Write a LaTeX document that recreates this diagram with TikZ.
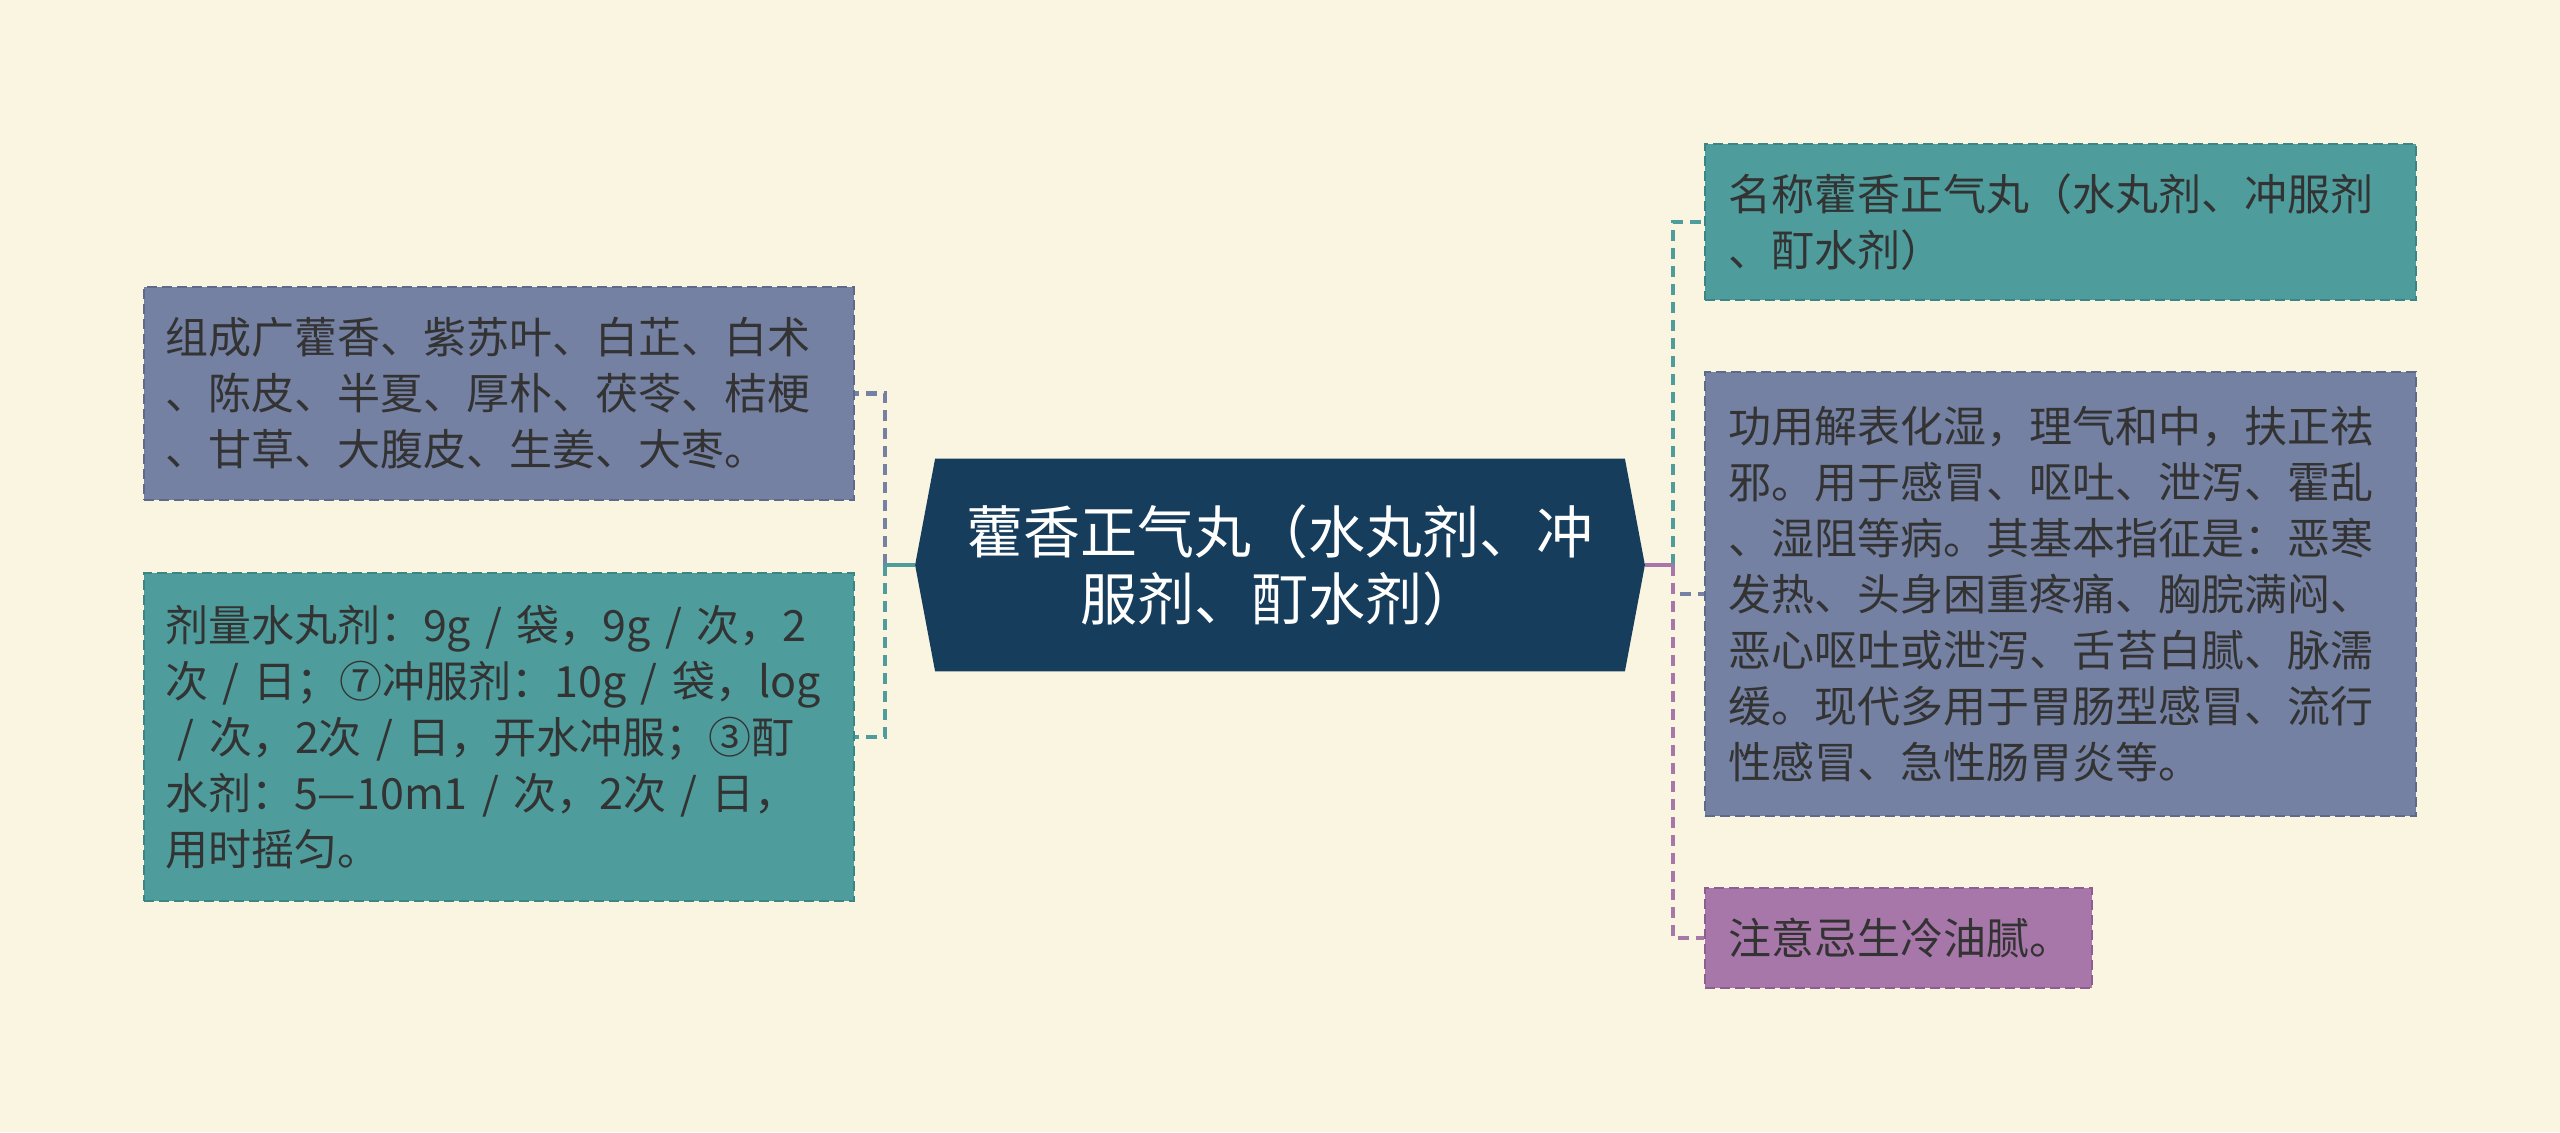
\documentclass[tikz,border=0pt]{standalone}
\usepackage{fontspec}
\setmainfont{Noto Sans CJK SC}
\usetikzlibrary{backgrounds}
\definecolor{bg}{HTML}{FAF5E1}
\definecolor{slate}{HTML}{7581A2}
\definecolor{slateD}{HTML}{5E6A8A}
\definecolor{tealc}{HTML}{4E9C9C}
\definecolor{tealD}{HTML}{3A8585}
\definecolor{purp}{HTML}{A877AA}
\definecolor{purpD}{HTML}{8E5E91}
\definecolor{navy}{HTML}{173D5C}
\definecolor{txt}{HTML}{333333}
\tikzset{
  box/.style={rectangle, draw, line width=0.9pt, dash pattern=on 5pt off 2.5pt,
    text=txt, align=left, inner ysep=0pt, anchor=center,
    font=\fontsize{21.5}{28}\selectfont},
  leftbox/.style={box, text width=334pt, inner xsep=10.5pt},
  rightbox/.style={box, text width=332.5pt, inner xsep=11.5pt},
  slatebox/.style={fill=slate, draw=slateD},
  tealbox/.style={fill=tealc, draw=tealD},
  purpbox/.style={fill=purp, draw=purpD},
  link/.style={line width=2.3pt, dash pattern=on 5.5pt off 3.5pt},
  stem/.style={line width=2.3pt},
  central/.style={rectangle, text=white, align=center, inner sep=0pt,
    minimum width=344.5pt, minimum height=106pt,
    font=\fontsize{28.5}{33.5}\selectfont},
}
\begin{document}
\begin{tikzpicture}[x=0.5pt,y=-0.5pt]
\useasboundingbox (0,0) rectangle (2560,1132);
\begin{pgfonlayer}{background}
  \fill[bg] (0,0) rectangle (2560,1132);
\end{pgfonlayer}

% central topic
\node[central] (c) at (1280,565) {藿香正气丸（水丸剂、冲\\服剂、酊水剂）};
\begin{pgfonlayer}{background}
  \fill[navy] ([xshift=-10pt]c.west) -- (c.north west) -- (c.north east)
    -- ([xshift=10pt]c.east) -- (c.south east) -- (c.south west) -- cycle;
\end{pgfonlayer}
\coordinate (cl) at ([xshift=-10pt]c.west);
\coordinate (cr) at ([xshift=10pt]c.east);
\coordinate (lt) at (885,565);
\coordinate (rt) at (1673,565);

% left children
\node[leftbox, slatebox, minimum height=106.5pt] (zc) at (499,393.5)
  {组成广藿香、紫苏叶、白芷、白术\\、陈皮、半夏、厚朴、茯苓、桔梗\\、甘草、大腹皮、生姜、大枣。};
\node[leftbox, tealbox, minimum height=164pt] (jl) at (499,737)
  {剂量水丸剂：9g~/~袋，9g~/~次，2\\次~/~日；⑦冲服剂：10g~/~袋，log\\\hspace{0.3em}/~次，2次~/~日，开水冲服；③酊\\水剂：5—10m1~/~次，2次~/~日，\\用时摇匀。};

% right children
\node[rightbox, tealbox, minimum height=78pt] (mc) at (2060.5,222)
  {名称藿香正气丸（水丸剂、冲服剂\\、酊水剂）};
\node[rightbox, slatebox, minimum height=222pt] (gy) at (2060.5,594)
  {功用解表化湿，理气和中，扶正祛\\邪。用于感冒、呕吐、泄泻、霍乱\\、湿阻等病。其基本指征是：恶寒\\发热、头身困重疼痛、胸脘满闷、\\恶心呕吐或泄泻、舌苔白腻、脉濡\\缓。现代多用于胃肠型感冒、流行\\性感冒、急性肠胃炎等。};
\node[box, purpbox, text width=170.5pt, inner xsep=11.5pt, minimum height=50pt] (zy) at (1898.5,938)
  {注意忌生冷油腻。};

% connectors left
\draw[link, draw=slate] (lt) |- (zc.east);
\draw[stem, draw=slate] (cl) -- (lt);
\draw[link, draw=tealc] (lt) |- (jl.east);
\draw[stem, draw=tealc] (cl) -- (lt);

% connectors right
\draw[link, draw=tealc] (rt) |- (mc.west);
\draw[stem, draw=tealc] (cr) -- (rt);
\draw[link, draw=slate] (rt) |- (gy.west);
\draw[stem, draw=slate] (cr) -- (rt);
\draw[link, draw=purp] (rt) |- (zy.west);
\draw[stem, draw=purp] (cr) -- (rt);
\end{tikzpicture}
\end{document}
